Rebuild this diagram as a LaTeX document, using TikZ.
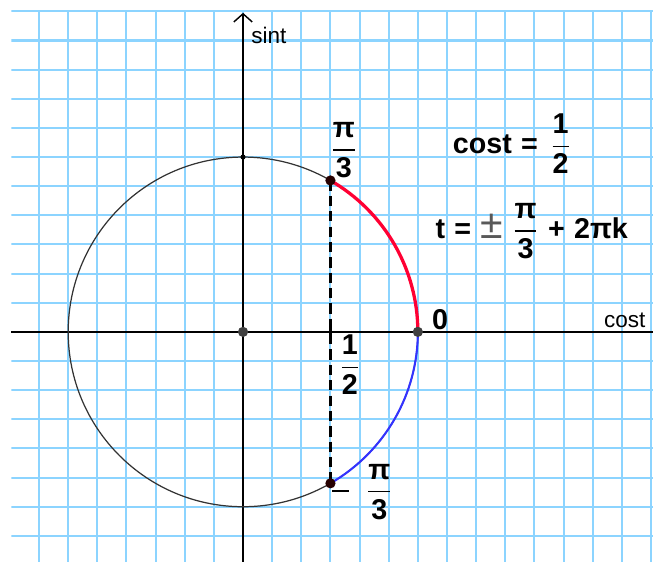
\documentclass[tikz,border=0pt]{standalone}
\usepackage{amsmath}
\usepackage{fontspec}
\setmainfont{Liberation Sans}
\usetikzlibrary{arrows.meta,positioning,calc}
\definecolor{gridblue}{RGB}{140,212,255}
\definecolor{arcred}{RGB}{255,0,51}
\definecolor{arcblue}{RGB}{51,51,255}
\newcommand{\fr}[2]{\ensuremath{\dfrac{\text{#1}}{\text{#2}}}}
\newcommand{\barminus}{\raisebox{3.3pt}{\rule{8pt}{1.3pt}}}
\newcommand{\gap}{\hspace{4.5pt}}

\begin{document}
\begin{tikzpicture}[x=0.5cm,y=0.5cm,
  lbl/.style={font=\bfseries\fontsize{14}{16}\selectfont,inner sep=1pt},
  axlbl/.style={font=\fontsize{11}{13}\selectfont,inner sep=1pt},
  pt/.style={circle,fill=#1,inner sep=0pt,minimum size=5pt}]
\useasboundingbox (-8.34,-7.89) rectangle (14.07,11.39);
% grid
\begin{scope}
\clip (-7.95,-7.9) rectangle (14.1,11.03);
\draw[gridblue,line width=1pt,step=0.5cm] (-8,-8) grid (14.1,11);
\end{scope}
% axes
\coordinate (O) at (0,0);
\draw[line width=0.7pt] (-7.95,0) -- (14.07,0);
\draw[line width=0.7pt,-{Straight Barb[length=4pt,width=9pt]}] (0,-7.89) -- (0,10.95);
\node[axlbl,anchor=west] (sin) at (0.2,10.19) {sint};
\node[axlbl] (cos) at (13.1,0.41) {cost};
% circle and arcs
\draw[black!80,line width=0.6pt] (O) circle (6);
\coordinate (A) at (60:6);
\coordinate (B) at (-60:6);
\coordinate (E) at (6,0);
\coordinate (H) at (3,0);
\draw[arcred,line width=1.6pt] (E) arc (0:60:6);
\draw[arcblue,line width=1pt] (E) arc (0:-60:6);
\draw[line width=1.3pt,dash pattern=on 5pt off 2.5pt] (A) -- (B);
\draw[line width=1.3pt] ($(H)+(-0.3,0)$) -- ($(H)+(0.3,0)$);
\draw[line width=1.3pt] ($(H)+(0,-0.3)$) -- ($(H)+(0,0.3)$);
% points
\node[pt=black!85!red] (pA) at (A) {};
\node[pt=black!85!red] (pB) at (B) {};
\node[pt=black!75] (pE) at (E) {};
\node[pt=black!75] (pO) at (O) {};
\node[pt=black,minimum size=2.5pt] (pT) at (0,6) {};
% labels
\node[lbl] (lA) at (3.46,6.24) {\fr{π}{3}};
\node[lbl] (lE) at (6.76,0.41) {0};
\node[lbl] (lH) at (3.67,-1.13) {\fr{1}{2}};
\node[lbl] (lB) at (4.1,-5.49) {\barminus\hspace{0.6em}\fr{π}{3}};
\node[lbl] (eq1) at (9.23,6.45) {cost\gap=\hspace{6pt}\fr{1}{2}};
\node[lbl] (eq2) at (9.91,3.46) {t\gap=\gap{\mdseries\fontsize{20}{20}\selectfont\color{black!65}±}\gap\fr{π}{3}\gap+\gap2πk};
\end{tikzpicture}
\end{document}
